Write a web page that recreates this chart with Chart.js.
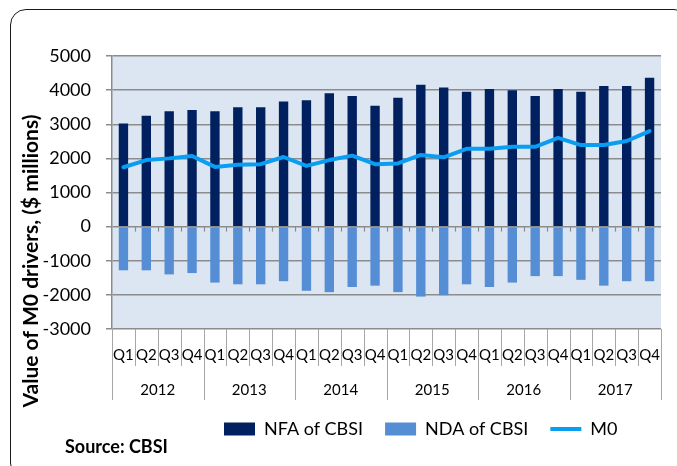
<!DOCTYPE html>
<html>
<head>
<meta charset="utf-8">
<script src="https://cdn.jsdelivr.net/npm/chart.js@4.4.1/dist/chart.umd.min.js"></script>
<style>
  html, body { margin: 0; padding: 0; background: #ffffff; overflow: hidden; }
  #wrap { position: relative; width: 677px; height: 466px; overflow: hidden; }
  #frame { position: absolute; left: 10px; top: 8.5px; width: 680px; height: 470px;
           border: 1.5px solid #1a1a1a; border-radius: 16px; box-sizing: border-box; pointer-events: none; }
  canvas { position: absolute; left: 0; top: 0; }
</style>
</head>
<body>
<div id="wrap">
  <canvas id="c" width="677" height="466"></canvas>
  <div id="frame"></div>
</div>
<script>
const categories = ['2012 Q1','2012 Q2','2012 Q3','2012 Q4','2013 Q1','2013 Q2','2013 Q3','2013 Q4',
                    '2014 Q1','2014 Q2','2014 Q3','2014 Q4','2015 Q1','2015 Q2','2015 Q3','2015 Q4',
                    '2016 Q1','2016 Q2','2016 Q3','2016 Q4','2017 Q1','2017 Q2','2017 Q3','2017 Q4'];
const quarterLabels = ['Q1','Q2','Q3','Q4','Q1','Q2','Q3','Q4','Q1','Q2','Q3','Q4',
                       'Q1','Q2','Q3','Q4','Q1','Q2','Q3','Q4','Q1','Q2','Q3','Q4'];
const yearLabels = ['2012','2013','2014','2015','2016','2017'];
const nfa = [3020,3250,3380,3420, 3380,3500,3500,3670, 3700,3910,3830,3540,
             3780,4160,4080,3950, 4030,4000,3830,4030, 3950,4120,4120,4360];
const nda = [-1280,-1280,-1400,-1360, -1640,-1690,-1690,-1600, -1880,-1920,-1770,-1730,
             -1920,-2050,-2010,-1690, -1770,-1640,-1450,-1450, -1560,-1730,-1600,-1600];
const m0 = [1740,1950,2000,2070, 1750,1810,1830,2040, 1780,1950,2080,1830,
            1850,2100,2030,2280, 2280,2340,2340,2600, 2390,2390,2510,2800];
const yMin = -3000, yMax = 5000, yStep = 1000;
const yTitle = 'Value of M0 drivers, ($ millions)';
const sourceText = 'Source: CBSI';

const FONT = 'Lato, Carlito, Calibri, "Liberation Sans", sans-serif';
const LEGEND_H = 20;

const deco = {
  id: 'deco',
  beforeDraw(chart) {
    const { ctx, chartArea: a } = chart;
    ctx.save();
    ctx.fillStyle = '#DCE6F2';
    ctx.fillRect(a.left, a.top, a.right - a.left, a.bottom - a.top);
    ctx.restore();
    const lg = chart.legend;
    if (lg) {
      const w = lg.width;
      lg.left = 224 - 22; lg.right = lg.left + w;
      lg.top = 398; lg.bottom = 462; lg.height = lg.bottom - lg.top;
    }
  },
  afterDraw(chart) {
    const { ctx, chartArea: a } = chart;
    const xs = chart.scales.x, ys = chart.scales.y;
    const n = categories.length;
    ctx.save();
    const y0 = ys.getPixelForValue(0);
    ctx.strokeStyle = '#8c8c8c';
    ctx.lineWidth = 1.2;
    for (let i = 1; i < n; i++) {
      const bx = Math.round(xs.getPixelForValue(i - 0.5)) + 0.5;
      ctx.beginPath(); ctx.moveTo(bx, y0); ctx.lineTo(bx, y0 + 5); ctx.stroke();
    }
    ctx.strokeStyle = '#a6a6a6';
    ctx.lineWidth = 1;
    for (let i = 0; i <= n; i++) {
      const bx = Math.round(xs.getPixelForValue(i - 0.5)) + 0.5;
      const isYear = (i % 4 === 0);
      ctx.beginPath(); ctx.moveTo(bx, a.bottom); ctx.lineTo(bx, isYear ? 400 : 366); ctx.stroke();
    }
    ctx.fillStyle = '#000';
    ctx.textAlign = 'center';
    ctx.textBaseline = 'middle';
    ctx.font = '15px ' + FONT;
    for (let i = 0; i < n; i++) {
      ctx.fillText(quarterLabels[i], xs.getPixelForValue(i), 355);
    }
    for (let j = 0; j < yearLabels.length; j++) {
      const cx = (xs.getPixelForValue(4 * j) + xs.getPixelForValue(4 * j + 3)) / 2;
      ctx.fillText(yearLabels[j], cx, 390);
    }
    ctx.save();
    ctx.translate(31, 261);
    ctx.rotate(-Math.PI / 2);
    ctx.font = 'bold 21px ' + FONT;
    ctx.fillText(yTitle, 0, 0);
    ctx.restore();
    ctx.textAlign = 'left';
    ctx.font = 'bold 18px ' + FONT;
    ctx.fillText(sourceText, 65, 447);
    ctx.restore();
  }
};

function build() {
  new Chart(document.getElementById('c'), {
    type: 'bar',
    data: {
      labels: categories,
      datasets: [
        { label: 'NFA of CBSI', data: nfa, backgroundColor: '#002060', borderWidth: 0,
          order: 2, pointStyle: 'rect', barPercentage: 0.41, categoryPercentage: 1 },
        { label: 'NDA of CBSI', data: nda, backgroundColor: '#558ED5', borderWidth: 0,
          order: 2, pointStyle: 'rect', barPercentage: 0.41, categoryPercentage: 1 },
        { type: 'line', label: 'M0', data: m0, borderColor: '#0A9EF2', backgroundColor: '#0A9EF2',
          borderWidth: 4, pointRadius: 0, tension: 0, order: 0, pointStyle: 'line',
          borderJoinStyle: 'round', borderCapStyle: 'round' }
      ]
    },
    options: {
      responsive: false,
      animation: false,
      layout: { padding: { left: 0, right: 16, top: 56, bottom: 137 - LEGEND_H } },
      scales: {
        x: { display: false, stacked: true, offset: true },
        y: {
          stacked: false,
          min: yMin, max: yMax,
          afterFit(scale) { scale.width = 112; },
          ticks: { stepSize: yStep, color: '#000', font: { family: FONT, size: 18 }, padding: 15,
                   callback: (v) => String(v) },
          grid: { color: '#8c8c8c', lineWidth: 1.5, tickLength: 6, drawTicks: true },
          border: { display: true, color: '#8c8c8c', width: 1.5 }
        }
      },
      plugins: {
        legend: {
          position: 'bottom',
          align: 'start',
          maxHeight: LEGEND_H,
          labels: { usePointStyle: true, pointStyleWidth: 31, boxHeight: 13, padding: 22,
                    color: '#000', font: { family: FONT, size: 18 },
                    sort: (a, b) => a.datasetIndex - b.datasetIndex }
        },
        tooltip: { enabled: false },
        title: { display: false }
      }
    },
    plugins: [deco]
  });
}

const loads = ['15px Lato', 'bold 21px Lato', '18px Lato'].map(f => document.fonts.load(f).catch(() => null));
Promise.all(loads).then(build, build);
</script>
</body>
</html>
